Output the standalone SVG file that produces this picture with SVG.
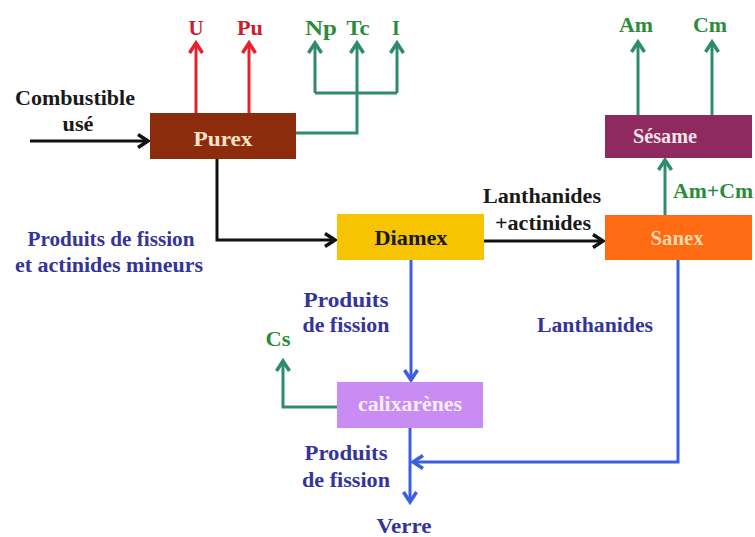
<svg xmlns="http://www.w3.org/2000/svg" width="755" height="537" viewBox="0 0 755 537">
<style>
text{font-family:"Liberation Serif","Times New Roman",serif;font-weight:bold;font-size:20px;text-anchor:middle}
.k{fill:#1a1a1a}.r{fill:#c8202c}.g{fill:#2c8c3a}.b{fill:#34349a}
.lk{stroke:#111;stroke-width:3;fill:none}
.lr{stroke:#e8202a;stroke-width:3;fill:none}
.lg{stroke:#2e8c6c;stroke-width:3;fill:none}
.lb{stroke:#3c5ee0;stroke-width:3;fill:none}
</style>
<defs>
<marker id="ak" markerUnits="userSpaceOnUse" markerWidth="16" markerHeight="16" refX="12" refY="8" orient="auto"><path d="M2,1.5 L12,8 L2,14.5" fill="none" stroke="#111" stroke-width="3.5"/></marker>
<marker id="ar" markerUnits="userSpaceOnUse" markerWidth="16" markerHeight="16" refX="12" refY="8" orient="auto"><path d="M2,1.5 L12,8 L2,14.5" fill="none" stroke="#e8202a" stroke-width="3.5"/></marker>
<marker id="ag" markerUnits="userSpaceOnUse" markerWidth="16" markerHeight="16" refX="12" refY="8" orient="auto"><path d="M2,1.5 L12,8 L2,14.5" fill="none" stroke="#2e8c6c" stroke-width="3.5"/></marker>
<marker id="ab" markerUnits="userSpaceOnUse" markerWidth="16" markerHeight="16" refX="12" refY="8" orient="auto"><path d="M2,1.5 L12,8 L2,14.5" fill="none" stroke="#3c5ee0" stroke-width="3.5"/></marker>
</defs>
<rect width="755" height="537" fill="#fff"/>
<g id="connectors">
<path class="lk" d="M30,141 H148" marker-end="url(#ak)"/>
<path class="lk" d="M217,159 V240 H335" marker-end="url(#ak)"/>
<path class="lk" d="M484,241 H603" marker-end="url(#ak)"/>
<path class="lr" d="M196,113 V43" marker-end="url(#ar)"/>
<path class="lr" d="M249,113 V43" marker-end="url(#ar)"/>
<path class="lg" d="M296,133 H357 V43" marker-end="url(#ag)"/>
<path class="lg" d="M315,93 V43" marker-end="url(#ag)"/>
<path class="lg" d="M397,93 V43" marker-end="url(#ag)"/>
<path class="lg" d="M315,93 H397"/>
<path class="lg" d="M665,215 V160" marker-end="url(#ag)"/>
<path class="lg" d="M638,115 V42" marker-end="url(#ag)"/>
<path class="lg" d="M712,115 V42" marker-end="url(#ag)"/>
<path class="lg" d="M337,407 H283 V361" marker-end="url(#ag)"/>
<path class="lb" d="M411,260 V380" marker-end="url(#ab)"/>
<path class="lb" d="M410,428 V502" marker-end="url(#ab)"/>
<path class="lb" d="M678,260 V462 H413" marker-end="url(#ab)"/>
</g>
<g id="purex"><rect x="150" y="113" width="146" height="46" fill="#8c2c0c"/><text x="223" y="146" fill="#f8e2c8" textLength="59" lengthAdjust="spacingAndGlyphs">Purex</text></g>
<g id="diamex"><rect x="337" y="214" width="147" height="46" fill="#f6c400"/><text x="411" y="245" class="k" textLength="73" lengthAdjust="spacingAndGlyphs">Diamex</text></g>
<g id="sanex"><rect x="605" y="215" width="147" height="45" fill="#ff6a12"/><text x="677" y="245" fill="#f8d8a8" textLength="53" lengthAdjust="spacingAndGlyphs">Sanex</text></g>
<g id="sesame"><rect x="605" y="115" width="147" height="43" fill="#8e2a5e"/><text x="665" y="143" fill="#f2e2ea" textLength="64" lengthAdjust="spacingAndGlyphs">Sésame</text></g>
<g id="calixarenes"><rect x="337" y="382" width="146" height="46" fill="#c98cf2"/><text x="410" y="411" fill="#f6eefc" textLength="104" lengthAdjust="spacingAndGlyphs">calixarènes</text></g>
<g id="labels">
<text x="196" y="35" class="r" textLength="15" lengthAdjust="spacingAndGlyphs">U</text>
<text x="250" y="35" class="r" textLength="26" lengthAdjust="spacingAndGlyphs">Pu</text>
<text x="321" y="35" class="g" textLength="32" lengthAdjust="spacingAndGlyphs">Np</text>
<text x="358" y="35" class="g" textLength="23" lengthAdjust="spacingAndGlyphs">Tc</text>
<text x="396" y="35" class="g">I</text>
<text x="636" y="32" class="g" textLength="34" lengthAdjust="spacingAndGlyphs">Am</text>
<text x="710" y="32" class="g" textLength="34" lengthAdjust="spacingAndGlyphs">Cm</text>
<text x="713" y="198" class="g" textLength="80" lengthAdjust="spacingAndGlyphs">Am+Cm</text>
<text x="75" y="105" class="k" textLength="120" lengthAdjust="spacingAndGlyphs">Combustible</text>
<text x="78" y="131" class="k" textLength="31" lengthAdjust="spacingAndGlyphs">usé</text>
<text x="542" y="203" class="k" textLength="118" lengthAdjust="spacingAndGlyphs">Lanthanides</text>
<text x="543" y="230" class="k" textLength="96" lengthAdjust="spacingAndGlyphs">+actinides</text>
<text x="111" y="246" class="b" textLength="167" lengthAdjust="spacingAndGlyphs">Produits de fission</text>
<text x="109" y="272" class="b" textLength="188" lengthAdjust="spacingAndGlyphs">et actinides mineurs</text>
<text x="346" y="307" class="b" textLength="85" lengthAdjust="spacingAndGlyphs">Produits</text>
<text x="346" y="332" class="b" textLength="87" lengthAdjust="spacingAndGlyphs">de fission</text>
<text x="278" y="346" class="g" textLength="25" lengthAdjust="spacingAndGlyphs">Cs</text>
<text x="595" y="332" class="b" textLength="116" lengthAdjust="spacingAndGlyphs">Lanthanides</text>
<text x="346" y="460" class="b" textLength="83" lengthAdjust="spacingAndGlyphs">Produits</text>
<text x="346" y="487" class="b" textLength="88" lengthAdjust="spacingAndGlyphs">de fission</text>
<text x="404" y="533" class="b" textLength="55" lengthAdjust="spacingAndGlyphs">Verre</text>
</g>
</svg>
